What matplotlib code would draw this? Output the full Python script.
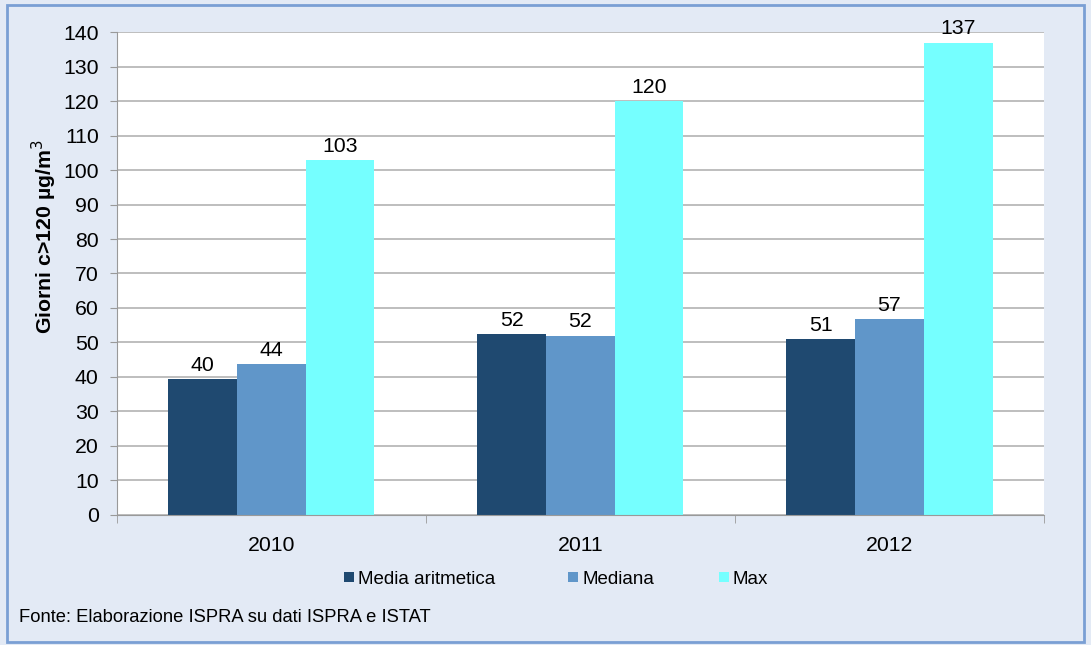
import numpy as np
import matplotlib.pyplot as plt
from matplotlib.patches import Rectangle

plt.rcParams['font.family'] = ['Liberation Sans', 'DejaVu Sans']

anni = ['2010', '2011', '2012']
media = [39.4, 52.3, 51.0]
mediana = [43.7, 52.0, 56.7]
massimo = [103, 120, 137]
etichette_media = ['40', '52', '51']
etichette_mediana = ['44', '52', '57']
etichette_max = ['103', '120', '137']

colori = ['#1f4970', '#6096c9', '#75ffff']
sfondo = '#e3eaf5'
fs = 15.3

W, H = 1091, 645
fig = plt.figure(figsize=(W / 100, H / 100), dpi=100, facecolor=sfondo)
fig.patches.append(Rectangle((0.006, 0.005), 0.988, 0.988, transform=fig.transFigure,
                             fill=False, edgecolor='#7a9fd4', linewidth=2))
ax = fig.add_axes([0.107, 0.202, 0.850, 0.748])
ax.set_facecolor('white')

x = np.arange(len(anni))
w = 1 / 4.5
serie = [(media, etichette_media, 'Media aritmetica'),
         (mediana, etichette_mediana, 'Mediana'),
         (massimo, etichette_max, 'Max')]
for i, (vals, labs, nome) in enumerate(serie):
    pos = x + (i - 1) * w
    ax.bar(pos, vals, width=w, color=colori[i], label=nome, zorder=2)
    for p, v, t in zip(pos, vals, labs):
        ax.text(p, v + 1.2, t, ha='center', va='bottom', fontsize=fs)

ax.set_xlim(-0.5, 2.5)
ax.set_ylim(0, 140)
ax.set_yticks(range(0, 141, 10))
ax.yaxis.grid(True, color='#b3b3b3', linewidth=1.2, zorder=0)
ax.set_axisbelow(True)
ax.set_xticks(x)
ax.set_xticklabels(anni)
ax.set_xticks([-0.5, 0.5, 1.5, 2.5], minor=True)
ax.tick_params(axis='x', which='major', length=0, labelsize=fs, pad=15)
ax.tick_params(axis='x', which='minor', length=6, color='#999999')
ax.tick_params(axis='y', length=5, color='#999999', labelsize=fs, pad=8)
for s in ['top', 'right']:
    ax.spines[s].set_visible(False)
for s in ['left', 'bottom']:
    ax.spines[s].set_color('#999999')

fig.text(44 / W, 1 - 237 / H, 'Giorni c>120 µg/m$^3$', fontsize=fs, fontweight='bold',
         rotation=90, ha='center', va='center')

# legenda disegnata a mano (posizioni come nell'originale)
leg_x = [344, 568, 719]
for lx, c, (_, _, nome) in zip(leg_x, colori, serie):
    fig.patches.append(Rectangle((lx / W, 1 - 582 / H), 10 / W, 10 / H,
                                 transform=fig.transFigure, facecolor=c, edgecolor='none'))
    fig.text((lx + 14) / W, 1 - 579 / H, nome, fontsize=13.5, va='center', ha='left')

fig.text(0.017, 0.036, 'Fonte: Elaborazione ISPRA su dati ISPRA e ISTAT', fontsize=13.2)

fig.savefig('out.png', dpi=100, facecolor=sfondo)
